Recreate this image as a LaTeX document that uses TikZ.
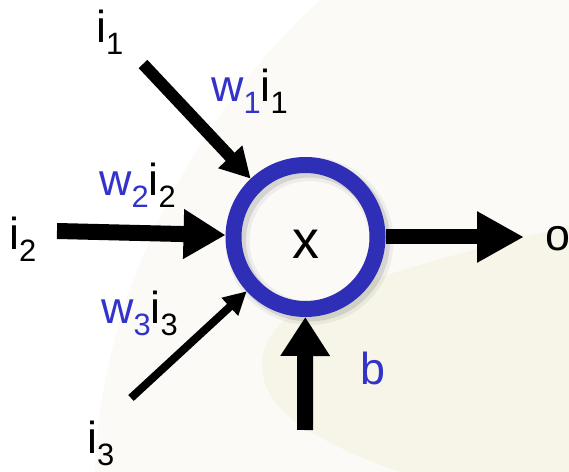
\documentclass[tikz,border=0pt]{standalone}
\usepackage{fontspec}
\setmainfont{Liberation Sans}
\usetikzlibrary{arrows.meta}
\definecolor{ringblue}{RGB}{47,46,182}
\definecolor{lblblue}{RGB}{51,51,204}
\definecolor{offwhite}{RGB}{251,250,247}
\definecolor{beigebg}{RGB}{246,245,232}
\newcommand{\mainsz}{\fontsize{45}{50}\selectfont}
\newcommand{\subsz}{\fontsize{31}{34}\selectfont}
\newcommand{\sbs}[1]{{\subsz\raisebox{-12bp}{#1}}}
\begin{document}
\begin{tikzpicture}[x=1bp,y=-1bp,
  neuron/.style={circle, draw=ringblue, line width=16bp, minimum size=144bp, inner sep=0pt, outer sep=8bp},
  inarrow/.style={draw=black, line cap=butt},
  lbl/.style={anchor=base west, inner sep=0pt, font=\mainsz, text=black},
  wlbl/.style={anchor=base west, inner sep=0pt, font=\mainsz}]
\useasboundingbox (0,0) rectangle (569,472);
\fill[white] (0,0) rectangle (569,472);
\fill[offwhite] (320,0) .. controls (200,110) and (100,290) .. (95,472) -- (569,472) -- (569,0) -- cycle;
\fill[beigebg] (569,226) .. controls (470,250) and (330,285) .. (285,320)
  .. controls (250,350) and (255,395) .. (300,425)
  .. controls (330,445) and (370,462) .. (400,472) -- (569,472) -- cycle;
% ring shadow
\draw[black, opacity=0.05, line width=24bp] (309.5,241) circle[radius=72bp];
\draw[black, opacity=0.10, line width=18bp] (309,240.5) circle[radius=72bp];
% neuron
\node[neuron] (n) at (305.5,237) {};
\node[anchor=base, inner sep=0pt, font=\fontsize{54}{58}\selectfont, text=black] (x) at (305.5,259) {x};
% connector ends
\coordinate (t1) at (143,64);
\coordinate (t2) at (57,231);
\coordinate (t3) at (131,398);
\coordinate (tb) at (305,430);
\coordinate (oTip) at (524,237);
% arrows
\draw[inarrow, line width=12bp, -{Triangle[length=30bp,width=31bp]}] (t1) -- (n);
\draw[inarrow, line width=16bp, -{Triangle[length=42bp,width=47bp]}] (t2) -- (n);
\draw[inarrow, line width=8bp, -{Triangle[length=23bp,width=23bp]}] (t3) -- (n);
\draw[inarrow, line width=16bp, -{Triangle[length=39bp,width=47bp]}] (tb) -- (n);
\draw[inarrow, line width=15bp, -{Triangle[length=47bp,width=48bp]}] (n.east) -- (oTip);
% labels
\node[lbl] (li1) at (96,43) {i\sbs{1}};
\node[lbl] (li2) at (9,250) {i\sbs{2}};
\node[lbl] (li3) at (87,453) {i\sbs{3}};
\node[wlbl] (lw1) at (211,102) {\textcolor{lblblue}{w\sbs{1}}i\sbs{1}};
\node[wlbl] (lw2) at (99,196) {\textcolor{lblblue}{w\sbs{2}}i\sbs{2}};
\node[wlbl] (lw3) at (101,323) {\textcolor{lblblue}{w\sbs{3}}i\sbs{3}};
\node[wlbl, text=lblblue] (lb) at (360,384) {b};
\node[lbl] (lo) at (545,251) {o};
\end{tikzpicture}
\end{document}
